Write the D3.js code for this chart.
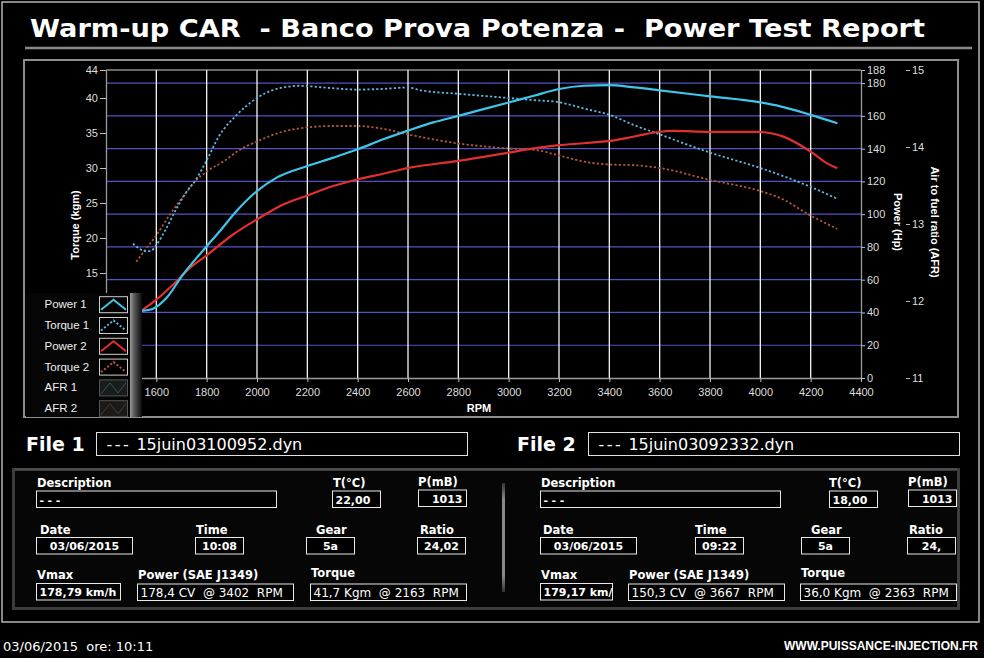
<!DOCTYPE html>
<html><head><meta charset="utf-8">
<script src="https://cdn.jsdelivr.net/npm/d3@7"></script>
<style>
html,body{margin:0;padding:0;background:#000;}
svg{display:block;}
text{white-space:pre;}
</style></head>
<body><svg id="c" width="984" height="658"></svg>
<script>
// ---------- DATA ----------
const titleText = "Warm-up CAR  - Banco Prova Potenza -  Power Test Report";
const rpmTicks = [1600,1800,2000,2200,2400,2600,2800,3000,3200,3400,3600,3800,4000,4200,4400];
const rpmGrid = [1600,1800,2000,2200,2400,2600,2800,3000,3200,3400,3600,3800,4000,4200];
const torqueTicks = [15,20,25,30,35,40,44];
const powerTicks = [0,20,40,60,80,100,120,140,160,180,188];
const powerGrid = [20,40,60,80,100,120,140,160,180];
const afrTicks = [11,12,13,14,15];

const power1Rpm = [1540,1587,1640,1706,1760,1800,1852,1918,2000,2078,2200,2303,2400,2502,2600,2700,2800,2900,3000,3100,3200,3300,3400,3500,3600,3800,4000,4080,4200,4306];
const power1Val = [41.0,42.3,48.8,63.1,73.3,80.4,89.6,101.8,114.1,122.3,129.4,134.5,139.6,145.7,151.0,156.0,160.0,164.1,168.2,172.3,176.4,178.4,178.8,177.4,175.6,171.9,168.2,165.8,160.6,155.5];

const torque1Rpm = [1507,1560,1580,1600,1640,1680,1720,1760,1800,1850,1920,2000,2060,2120,2170,2200,2300,2400,2500,2600,2650,2800,3000,3100,3200,3300,3400,3500,3600,3800,4000,4200,4306];
const torque1Val = [19.2,18.1,18.2,19.0,21.4,24.2,26.6,28.5,31.1,34.6,37.6,40.0,41.1,41.6,41.75,41.7,41.4,41.2,41.3,41.5,41.1,40.6,40.0,39.7,39.4,38.5,37.6,36.1,34.8,32.2,30.0,27.3,25.6];

const power2Rpm = [1540,1600,1666,1733,1800,1905,2000,2104,2200,2303,2400,2502,2600,2800,3000,3100,3200,3300,3400,3500,3600,3656,3800,4000,4042,4094,4200,4266,4306];
const power2Val = [41.0,47.8,56.9,67.2,74.9,87.6,96.8,105.9,111.4,117.2,121.2,124.7,128.2,132.5,137.6,140.2,142.1,143.3,144.7,147.4,150.3,150.8,150.2,150.2,149.4,147.2,138.2,131.0,128.0];

const torque2Rpm = [1520,1560,1600,1653,1706,1760,1800,1865,1932,2000,2104,2200,2300,2400,2500,2600,2700,2800,2900,3000,3100,3200,3300,3400,3500,3600,3800,4000,4080,4200,4306];
const torque2Val = [16.6,18.5,20.4,23.3,25.9,28.3,29.5,30.9,32.6,33.8,35.2,35.8,36.0,36.0,35.6,34.8,34.1,33.5,33.1,32.8,32.6,31.8,30.9,30.5,30.4,30.0,28.3,26.7,25.7,23.2,21.3];

const legendNames = ["Power 1","Torque 1","Power 2","Torque 2","AFR 1","AFR 2"];

const file1Name = "15juin03100952.dyn";
const file2Name = "15juin03092332.dyn";
const file1Info = {desc:"---", temp:"22,00", press:"1013", date:"03/06/2015", time:"10:08", gear:"5a", ratio:"24,02", vmax:"178,79 km/h", power:"178,4 CV  @ 3402  RPM", torque:"41,7 Kgm  @ 2163  RPM"};
const file2Info = {desc:"---", temp:"18,00", press:"1013", date:"03/06/2015", time:"09:22", gear:"5a", ratio:"24,", vmax:"179,17 km/", power:"150,3 CV  @ 3667  RPM", torque:"36,0 Kgm  @ 2363  RPM"};
const footerLeft = "03/06/2015  ore: 10:11";
const footerRight = "WWW.PUISSANCE-INJECTION.FR";

// ---------- DRAW ----------
const svg = d3.select("#c");
const W=984, H=658;
svg.append("rect").attr("width",W).attr("height",H).attr("fill","#000");

const defs = svg.append("defs");
const g1 = defs.append("linearGradient").attr("id","legbar").attr("x1","0").attr("x2","1").attr("y1","0").attr("y2","0");
g1.append("stop").attr("offset","0").attr("stop-color","#9a9a9a");
g1.append("stop").attr("offset","0.35").attr("stop-color","#5a5a5a");
g1.append("stop").attr("offset","1").attr("stop-color","#0a0a0a");
const g2 = defs.append("linearGradient").attr("id","divbar").attr("x1","0").attr("x2","0").attr("y1","0").attr("y2","1");
g2.append("stop").attr("offset","0").attr("stop-color","#333");
g2.append("stop").attr("offset","0.15").attr("stop-color","#888");
g2.append("stop").attr("offset","0.85").attr("stop-color","#888");
g2.append("stop").attr("offset","1").attr("stop-color","#333");
defs.append("clipPath").attr("id","plotclip").append("rect").attr("x",106).attr("y",68).attr("width",756).attr("height",312);

// outer frame
svg.append("rect").attr("x",2).attr("y",2).attr("width",977).attr("height",620).attr("fill","none").attr("stroke","#b4b4b4").attr("stroke-width",1.5);

// title
svg.append("text").attr("x",30).attr("y",37).text(titleText)
  .attr("font-family","DejaVu Sans").attr("font-weight","bold").attr("font-size",25)
  .attr("fill","#fff").attr("textLength",895).attr("lengthAdjust","spacingAndGlyphs");
svg.append("line").attr("x1",25).attr("x2",972).attr("y1",48).attr("y2",48).attr("stroke","#8a8a8a").attr("stroke-width",2.5);

// chart panel
svg.append("rect").attr("x",24).attr("y",60).attr("width",934).attr("height",357).attr("fill","#000").attr("stroke","#8e8e8e").attr("stroke-width",2);

// scales
const x = d3.scaleLinear().domain([1400,4400]).range([106,861]);
const yT = d3.scaleLinear().domain([0,44]).range([378,70]);
const yP = d3.scaleLinear().domain([0,188]).range([378,70]);
const yA = d3.scaleLinear().domain([11,15]).range([378,70]);

// grid
const grid = svg.append("g");
grid.selectAll("line.h").data(powerGrid).join("line").attr("class","h")
  .attr("x1",106).attr("x2",861).attr("y1",d=>yP(d)).attr("y2",d=>yP(d))
  .attr("stroke","#5252c4").attr("stroke-width",1.2);
grid.selectAll("line.v").data(rpmGrid).join("line").attr("class","v")
  .attr("x1",d=>x(d)).attr("x2",d=>x(d)).attr("y1",70).attr("y2",378)
  .attr("stroke","#f4f4f4").attr("stroke-width",1.3);
grid.append("line").attr("x1",106).attr("x2",861).attr("y1",70).attr("y2",70).attr("stroke","#cfcfcf").attr("stroke-width",1.2);

// axes
const fmt = d3.format("d");
function styleAxis(g){
  g.selectAll("path.domain").attr("stroke","#9a9a9a").attr("stroke-width",1.3);
  g.selectAll(".tick line").attr("stroke","#bdbdbd");
  g.selectAll(".tick text").attr("fill","#dedede").attr("font-family","Liberation Sans, Arial, sans-serif").attr("font-size",11);
}
const axL = svg.append("g").attr("transform","translate(106,0)")
  .call(d3.axisLeft(yT).tickValues(torqueTicks).tickFormat(fmt).tickSize(6).tickSizeOuter(0).tickPadding(2));
styleAxis(axL);
const axR = svg.append("g").attr("transform","translate(861,0)")
  .call(d3.axisRight(yP).tickValues(powerTicks).tickFormat(fmt).tickSize(4).tickSizeOuter(0).tickPadding(2));
styleAxis(axR);
const axA = svg.append("g").attr("transform","translate(906,0)")
  .call(d3.axisRight(yA).tickValues(afrTicks).tickFormat(fmt).tickSize(4).tickSizeOuter(0).tickPadding(2));
styleAxis(axA);
axA.select("path.domain").remove();
const axB = svg.append("g").attr("transform","translate(0,378)")
  .call(d3.axisBottom(x).tickValues(rpmTicks).tickFormat(fmt).tickSize(4).tickSizeOuter(0).tickPadding(6));
styleAxis(axB);

// axis titles
const lblFont = "Liberation Sans, Arial, sans-serif";
svg.append("text").attr("transform","translate(79,225) rotate(-90)").attr("text-anchor","middle")
  .attr("font-family",lblFont).attr("font-weight","bold").attr("font-size",11).attr("fill","#fff").text("Torque (kgm)");
svg.append("text").attr("transform","translate(894,222) rotate(90)").attr("text-anchor","middle")
  .attr("font-family",lblFont).attr("font-weight","bold").attr("font-size",11).attr("fill","#fff").text("Power (Hp)");
svg.append("text").attr("transform","translate(931,222) rotate(90)").attr("text-anchor","middle")
  .attr("font-family",lblFont).attr("font-weight","bold").attr("font-size",11).attr("fill","#fff").text("Air to fuel ratio (AFR)");
svg.append("text").attr("x",479).attr("y",412).attr("text-anchor","middle")
  .attr("font-family",lblFont).attr("font-weight","bold").attr("font-size",11).attr("fill","#fff").text("RPM");

// curves
const series = [
  {rpm:torque2Rpm, val:torque2Val, y:yT, color:"#b4553c", dash:"2.2,2.2", w:1.8},
  {rpm:torque1Rpm, val:torque1Val, y:yT, color:"#5cb6e2", dash:"2.2,2.2", w:1.8},
  {rpm:power2Rpm, val:power2Val, y:yP, color:"#e2302e", dash:null, w:2.2},
  {rpm:power1Rpm, val:power1Val, y:yP, color:"#3ec6ea", dash:null, w:2.2}
];
const curves = svg.append("g").attr("clip-path","url(#plotclip)");
series.forEach(s=>{
  const pts = s.rpm.map((r,i)=>[r,s.val[i]]);
  const line = d3.line().x(d=>x(d[0])).y(d=>s.y(d[1])).curve(d3.curveMonotoneX);
  curves.append("path").attr("d",line(pts)).attr("fill","none").attr("stroke",s.color)
    .attr("stroke-width",s.w).attr("stroke-dasharray",s.dash).attr("stroke-linejoin","round");
});

// legend
const leg = svg.append("g");
leg.append("rect").attr("x",26).attr("y",293).attr("width",116).attr("height",124).attr("fill","#050505");
leg.append("rect").attr("x",130).attr("y",293).attr("width",12).attr("height",124).attr("fill","url(#legbar)");
const legStyle = [
  {color:"#3ec6ea", dash:null, border:"#cfcfcf", fill:"#000"},
  {color:"#5cb6e2", dash:"2,2", border:"#cfcfcf", fill:"#000"},
  {color:"#e2302e", dash:null, border:"#cfcfcf", fill:"#000"},
  {color:"#b4553c", dash:"2,2", border:"#cfcfcf", fill:"#000"},
  {color:"#2e5a62", dash:null, border:"#555", fill:"#1a1c1c"},
  {color:"#4a3a30", dash:null, border:"#555", fill:"#1c1a18"}
];
legendNames.forEach((n,i)=>{
  const top = 296.7 + i*20.8;
  leg.append("text").attr("x",44.5).attr("y",top+11.5).text(n)
    .attr("font-family",lblFont).attr("font-size",11.5).attr("fill","#f0f0f0");
  const st = legStyle[i];
  leg.append("rect").attr("x",99.5).attr("y",top).attr("width",28).attr("height",16)
    .attr("fill",st.fill).attr("stroke",st.border).attr("stroke-width",1);
  let pts;
  if(i<4) pts = [[101,top+13],[113.5,top+3],[126,top+13]];
  else pts = [[101,top+14],[110,top+3],[118,top+13],[126,top+3]];
  leg.append("polyline").attr("points",pts.map(p=>p.join(",")).join(" "))
    .attr("fill","none").attr("stroke",st.color).attr("stroke-width",i<4?2:1).attr("stroke-dasharray",st.dash);
});

// file headers
const bigFont = "DejaVu Sans, Verdana, sans-serif";
function fileHeader(lx, label, bx, bw, name){
  svg.append("text").attr("x",lx).attr("y",451).text(label)
    .attr("font-family",bigFont).attr("font-weight","bold").attr("font-size",19).attr("fill","#fff");
  svg.append("rect").attr("x",bx).attr("y",432.5).attr("width",bw).attr("height",23)
    .attr("fill","#000").attr("stroke","#e0e0e0").attr("stroke-width",1);
  const t = svg.append("text").attr("x",bx+10).attr("y",449.5)
    .attr("font-family",bigFont).attr("font-size",16).attr("fill","#fff");
  t.append("tspan").attr("letter-spacing",2.5).text("---");
  t.append("tspan").text(" " + name);
}
fileHeader(26,"File 1",96.5,371,file1Name);
fileHeader(517,"File 2",588.5,371,file2Name);

// info panel
svg.append("rect").attr("x",13.5).attr("y",469.5).attr("width",945).attr("height",139)
  .attr("fill","#060606").attr("stroke","#3c3c3c").attr("stroke-width",3);
svg.append("line").attr("x1",15).attr("x2",957).attr("y1",469).attr("y2",469).attr("stroke","#555").attr("stroke-width",1.5);
svg.append("rect").attr("x",502).attr("y",483).attr("width",3).attr("height",109).attr("fill","url(#divbar)");

function field(lx, ly, label, bx, by, bw, value, align, big, spaced){
  svg.append("text").attr("x",lx).attr("y",ly).text(label)
    .attr("font-family",bigFont).attr("font-weight","bold").attr("font-size",11.5).attr("fill","#fff");
  svg.append("rect").attr("x",bx).attr("y",by).attr("width",bw).attr("height",16.5)
    .attr("fill","#000").attr("stroke","#e8e8e8").attr("stroke-width",1);
  const t = svg.append("text").attr("y",by+12.8).text(value)
    .attr("font-family",bigFont).attr("font-size",big?12:11).attr("font-weight",big?"normal":"bold").attr("fill","#fff");
  if(spaced) t.attr("letter-spacing",3.5);
  if(align==="start") t.attr("x",bx+3);
  else if(align==="end") t.attr("x",bx+bw-4).attr("text-anchor","end");
  else t.attr("x",bx+bw/2).attr("text-anchor","middle");
}
function panel(info, L){
  field(L.desc[0],487,"Description",L.desc[1],491,L.desc[2],info.desc,"start",false,true);
  field(L.temp[0],487,"T(°C)",L.temp[1],491,48,info.temp,"start");
  field(L.press[0],486,"P(mB)",L.press[1],490,48,info.press,"end");
  field(L.date[0],534,"Date",L.date[1],537.5,96,info.date,"middle");
  field(L.time[0],534,"Time",L.time[1],537.5,48,info.time,"middle");
  field(L.gear[0],534,"Gear",L.gear[1],537.5,48,info.gear,"middle");
  field(L.ratio[0],534,"Ratio",L.ratio[1],537.5,48,info.ratio,"middle");
  field(L.vmax[0],579,"Vmax",L.vmax[1],583.5,L.vmax[2],info.vmax,"start");
  field(L.power[0],579,"Power (SAE J1349)",L.power[1],584,156,info.power,"start",true);
  field(L.torque[0],577,"Torque",L.torque[1],584,156,info.torque,"start",true);
}
panel(file1Info,{desc:[37,36.5,240],temp:[333,332.5],press:[418,418.5],date:[40,36.5],time:[196,195.5],gear:[316,306.5],ratio:[420,417.5],vmax:[37,36.5,84],power:[138,137.5],torque:[311,310.5]});
panel(file2Info,{desc:[541,540.5,240],temp:[829,829.5],press:[908,908.5],date:[543,540.5],time:[695,695.5],gear:[811,801.5],ratio:[909,907.5],vmax:[541,540.5,72],power:[629,628.5],torque:[801,800.5]});

// footer
svg.append("text").attr("x",3).attr("y",651).text(footerLeft)
  .attr("font-family",bigFont).attr("font-size",13).attr("fill","#fff");
svg.append("text").attr("x",978).attr("y",650).attr("text-anchor","end").text(footerRight)
  .attr("font-family",lblFont).attr("font-weight","bold").attr("font-size",12).attr("fill","#fff");
</script></body></html>
